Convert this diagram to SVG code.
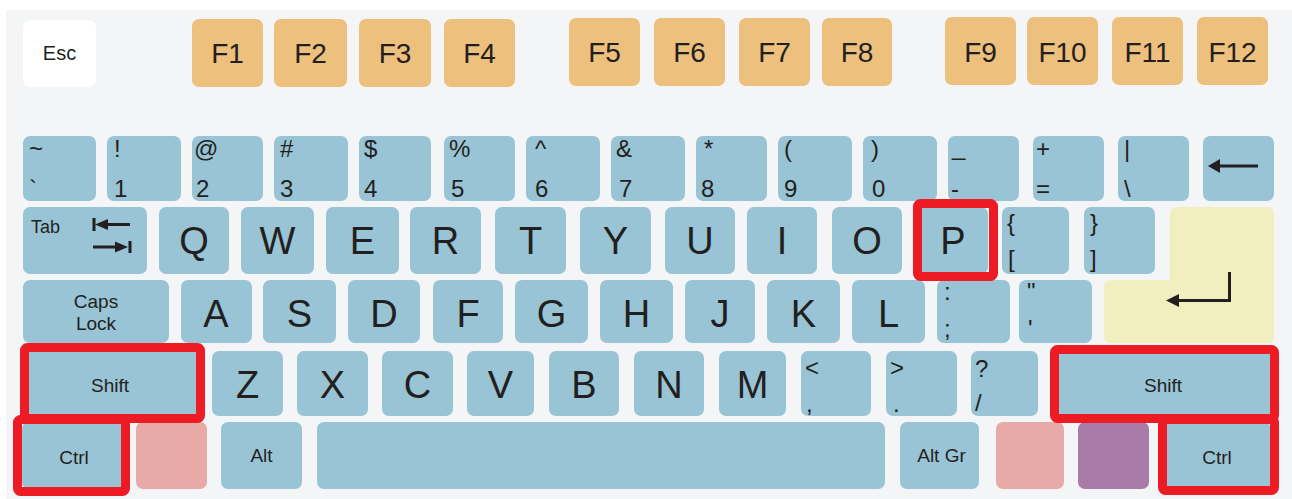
<svg xmlns="http://www.w3.org/2000/svg" width="1292" height="499" viewBox="0 0 1292 499">
<style>
.k{fill:#98c4d5}
.f{fill:#edc07d}
.w{fill:#ffffff}
.pk{fill:#e8aaa7}
.pu{fill:#a97ba8}
.en{fill:#f1efbf}
text{font-family:"Liberation Sans",Arial,sans-serif;fill:#231f20}
.fl{font-size:28px;text-anchor:middle}
.L{font-size:38px;text-anchor:middle}
.s{font-size:24px}
.m{font-size:19px;text-anchor:middle}
.hl{fill:none;stroke:#ed1c24;stroke-width:9}
.ln{fill:none;stroke:#231f20;stroke-width:3}
.ah{fill:#231f20}
</style>
<rect x="6" y="10" width="1286" height="489" fill="#f4f5f7"/>

<g id="esc"><rect class="w" x="23" y="20" width="73" height="67" rx="7"/><text x="59.5" y="60" font-size="20" text-anchor="middle">Esc</text></g>
<g id="f1"><rect class="f" x="192" y="19" width="71" height="68" rx="7"/><text class="fl" x="227.5" y="63">F1</text></g>
<g id="f2"><rect class="f" x="274" y="19" width="73" height="68" rx="7"/><text class="fl" x="310.5" y="63">F2</text></g>
<g id="f3"><rect class="f" x="359" y="19" width="72" height="68" rx="7"/><text class="fl" x="395" y="63">F3</text></g>
<g id="f4"><rect class="f" x="444" y="19" width="71" height="68" rx="7"/><text class="fl" x="479.5" y="63">F4</text></g>
<g id="f5"><rect class="f" x="569" y="18" width="71" height="68" rx="7"/><text class="fl" x="604.5" y="62">F5</text></g>
<g id="f6"><rect class="f" x="654" y="18" width="71" height="68" rx="7"/><text class="fl" x="689.5" y="62">F6</text></g>
<g id="f7"><rect class="f" x="739" y="18" width="71" height="68" rx="7"/><text class="fl" x="774.5" y="62">F7</text></g>
<g id="f8"><rect class="f" x="822" y="18" width="70" height="68" rx="7"/><text class="fl" x="857" y="62">F8</text></g>
<g id="f9"><rect class="f" x="945" y="17" width="71" height="68" rx="7"/><text class="fl" x="980.5" y="62">F9</text></g>
<g id="f10"><rect class="f" x="1027" y="17" width="71" height="68" rx="7"/><text class="fl" x="1062.5" y="62">F10</text></g>
<g id="f11"><rect class="f" x="1112" y="17" width="71" height="68" rx="7"/><text class="fl" x="1147.5" y="62">F11</text></g>
<g id="f12"><rect class="f" x="1197" y="17" width="71" height="68" rx="7"/><text class="fl" x="1232.5" y="62">F12</text></g>

<g id="k-tilde"><rect class="k" x="23" y="136" width="73" height="65" rx="7"/><text class="s" x="29" y="157">~</text><text class="s" x="29" y="197">`</text></g>
<g id="k-1"><rect class="k" x="107" y="136" width="74" height="65" rx="7"/><text class="s" x="114" y="157">!</text><text class="s" x="114" y="197">1</text></g>
<g id="k-2"><rect class="k" x="192" y="136" width="71" height="65" rx="7"/><text class="s" x="194" y="157">@</text><text class="s" x="196" y="197">2</text></g>
<g id="k-3"><rect class="k" x="274" y="136" width="74" height="65" rx="7"/><text class="s" x="280" y="157">#</text><text class="s" x="280" y="197">3</text></g>
<g id="k-4"><rect class="k" x="359" y="136" width="72" height="65" rx="7"/><text class="s" x="364" y="157">$</text><text class="s" x="364" y="197">4</text></g>
<g id="k-5"><rect class="k" x="444" y="136" width="71" height="65" rx="7"/><text class="s" x="449" y="157">%</text><text class="s" x="451" y="197">5</text></g>
<g id="k-6"><rect class="k" x="526" y="136" width="74" height="65" rx="7"/><text class="s" x="535" y="157">^</text><text class="s" x="535" y="197">6</text></g>
<g id="k-7"><rect class="k" x="611" y="136" width="74" height="65" rx="7"/><text class="s" x="616" y="157">&amp;</text><text class="s" x="619" y="197">7</text></g>
<g id="k-8"><rect class="k" x="696" y="136" width="71" height="65" rx="7"/><text class="s" x="704" y="157">*</text><text class="s" x="701" y="197">8</text></g>
<g id="k-9"><rect class="k" x="778" y="136" width="74" height="65" rx="7"/><text class="s" x="784" y="157">(</text><text class="s" x="784" y="197">9</text></g>
<g id="k-0"><rect class="k" x="863" y="136" width="74" height="65" rx="7"/><text class="s" x="871" y="157">)</text><text class="s" x="872" y="197">0</text></g>
<g id="k-minus"><rect class="k" x="948" y="136" width="71" height="65" rx="7"/><text class="s" x="952" y="155">_</text><text class="s" x="951" y="197">-</text></g>
<g id="k-equal"><rect class="k" x="1033" y="136" width="71" height="65" rx="7"/><text class="s" x="1036" y="157">+</text><text class="s" x="1036" y="197">=</text></g>
<g id="k-bslash"><rect class="k" x="1118" y="136" width="71" height="65" rx="7"/><text class="s" x="1124" y="157">|</text><text class="s" x="1124" y="197">\</text></g>
<g id="k-bksp"><rect class="k" x="1203" y="136" width="71" height="65" rx="7"/><line class="ln" x1="1216" y1="166" x2="1258" y2="166"/><polygon class="ah" points="1208,166 1220,159 1220,173"/></g>

<g id="k-tab"><rect class="k" x="23" y="207" width="124" height="67" rx="7"/><text x="31" y="233" font-size="18">Tab</text><line class="ln" x1="94" y1="218" x2="94" y2="231"/><line class="ln" x1="104" y1="224.5" x2="130" y2="224.5"/><polygon class="ah" points="95,224.5 108,219 108,230"/><line class="ln" x1="93" y1="247" x2="119" y2="247"/><polygon class="ah" points="128,247 115,241.5 115,252.5"/><line class="ln" x1="130" y1="241" x2="130" y2="253"/></g>
<g id="k-q"><rect class="k" x="159" y="207" width="70" height="67" rx="7"/><text class="L" x="194" y="254">Q</text></g>
<g id="k-w"><rect class="k" x="241" y="207" width="73" height="67" rx="7"/><text class="L" x="277.5" y="254">W</text></g>
<g id="k-e"><rect class="k" x="326" y="207" width="73" height="67" rx="7"/><text class="L" x="362.5" y="254">E</text></g>
<g id="k-r"><rect class="k" x="410" y="207" width="71" height="67" rx="7"/><text class="L" x="445.5" y="254">R</text></g>
<g id="k-t"><rect class="k" x="495" y="207" width="71" height="67" rx="7"/><text class="L" x="530.5" y="254">T</text></g>
<g id="k-y"><rect class="k" x="580" y="207" width="71" height="67" rx="7"/><text class="L" x="615.5" y="254">Y</text></g>
<g id="k-u"><rect class="k" x="665" y="207" width="70" height="67" rx="7"/><text class="L" x="700" y="254">U</text></g>
<g id="k-i"><rect class="k" x="747" y="207" width="70" height="67" rx="7"/><text class="L" x="782" y="254">I</text></g>
<g id="k-o"><rect class="k" x="832" y="207" width="70" height="67" rx="7"/><text class="L" x="867" y="254">O</text></g>
<g id="k-p"><rect class="k" x="918" y="207" width="70" height="67" rx="7"/><text class="L" x="953" y="254">P</text></g>
<g id="k-lbr"><rect class="k" x="1002" y="207" width="67" height="67" rx="7"/><text class="s" x="1007" y="231">{</text><text class="s" x="1008" y="267">[</text></g>
<g id="k-rbr"><rect class="k" x="1084" y="207" width="71" height="67" rx="7"/><text class="s" x="1090" y="231">}</text><text class="s" x="1090" y="267">]</text></g>
<g id="k-enter"><path class="en" d="M1177,207 H1267 Q1274,207 1274,214 V336 Q1274,343 1267,343 H1111 Q1104,343 1104,336 V287 Q1104,280 1111,280 H1170 V214 Q1170,207 1177,207 Z"/><polyline class="ln" points="1229.5,272 1229.5,300.5 1176,300.5"/><polygon class="ah" points="1166,300.5 1179,294 1179,307"/></g>

<g id="k-caps"><rect class="k" x="23" y="280" width="146" height="63" rx="7"/><text class="m" x="96" y="308">Caps</text><text class="m" x="96" y="330">Lock</text></g>
<g id="k-a"><rect class="k" x="181" y="280" width="71" height="63" rx="7"/><text class="L" x="216" y="327">A</text></g>
<g id="k-s"><rect class="k" x="263" y="280" width="73" height="63" rx="7"/><text class="L" x="299.5" y="327">S</text></g>
<g id="k-d"><rect class="k" x="348" y="280" width="72" height="63" rx="7"/><text class="L" x="384" y="327">D</text></g>
<g id="k-f"><rect class="k" x="433" y="280" width="70" height="63" rx="7"/><text class="L" x="468" y="327">F</text></g>
<g id="k-g"><rect class="k" x="515" y="280" width="73" height="63" rx="7"/><text class="L" x="551.5" y="327">G</text></g>
<g id="k-h"><rect class="k" x="600" y="280" width="73" height="63" rx="7"/><text class="L" x="636.5" y="327">H</text></g>
<g id="k-j"><rect class="k" x="685" y="280" width="70" height="63" rx="7"/><text class="L" x="720" y="327">J</text></g>
<g id="k-k"><rect class="k" x="767" y="280" width="73" height="63" rx="7"/><text class="L" x="803.5" y="327">K</text></g>
<g id="k-l"><rect class="k" x="852" y="280" width="73" height="63" rx="7"/><text class="L" x="888.5" y="327">L</text></g>
<g id="k-semi"><rect class="k" x="937" y="280" width="73" height="63" rx="7"/><text class="s" x="944" y="300">:</text><text class="s" x="944" y="337">;</text></g>
<g id="k-quote"><rect class="k" x="1019" y="280" width="73" height="63" rx="7"/><text class="s" x="1027" y="300">"</text><text class="s" x="1028" y="337">'</text></g>

<g id="k-lshift"><rect class="k" x="23" y="351" width="177" height="65" rx="7"/><text class="m" x="110" y="392">Shift</text></g>
<g id="k-z"><rect class="k" x="212" y="351" width="71" height="65" rx="7"/><text class="L" x="247.5" y="398">Z</text></g>
<g id="k-x"><rect class="k" x="297" y="351" width="71" height="65" rx="7"/><text class="L" x="332.5" y="398">X</text></g>
<g id="k-c"><rect class="k" x="382" y="351" width="71" height="65" rx="7"/><text class="L" x="417.5" y="398">C</text></g>
<g id="k-v"><rect class="k" x="467" y="351" width="67" height="65" rx="7"/><text class="L" x="500.5" y="398">V</text></g>
<g id="k-b"><rect class="k" x="549" y="351" width="70" height="65" rx="7"/><text class="L" x="584" y="398">B</text></g>
<g id="k-n"><rect class="k" x="634" y="351" width="70" height="65" rx="7"/><text class="L" x="669" y="398">N</text></g>
<g id="k-m"><rect class="k" x="719" y="351" width="67" height="65" rx="7"/><text class="L" x="752.5" y="398">M</text></g>
<g id="k-comma"><rect class="k" x="801" y="351" width="70" height="65" rx="7"/><text class="s" x="805" y="376">&lt;</text><text class="s" x="806" y="412">,</text></g>
<g id="k-period"><rect class="k" x="886" y="351" width="71" height="65" rx="7"/><text class="s" x="890" y="376">&gt;</text><text class="s" x="893" y="412">.</text></g>
<g id="k-slash"><rect class="k" x="971" y="351" width="67" height="65" rx="7"/><text class="s" x="975" y="377">?</text><text class="s" x="975" y="411">/</text></g>
<g id="k-rshift"><rect class="k" x="1057" y="351" width="215" height="65" rx="7"/><text class="m" x="1163" y="392">Shift</text></g>

<g id="k-lctrl"><rect class="k" x="22" y="422" width="103" height="67" rx="7"/><text class="m" x="74" y="464">Ctrl</text></g>
<g id="k-lwin"><rect class="pk" x="136" y="422" width="71" height="67" rx="7"/></g>
<g id="k-alt"><rect class="k" x="221" y="422" width="81" height="67" rx="7"/><text class="m" x="261.5" y="462">Alt</text></g>
<g id="k-space"><rect class="k" x="317" y="422" width="568" height="67" rx="7"/></g>
<g id="k-altgr"><rect class="k" x="900" y="422" width="79" height="67" rx="7"/><text class="m" x="941.5" y="462">Alt Gr</text></g>
<g id="k-rwin"><rect class="pk" x="996" y="422" width="68" height="67" rx="7"/></g>
<g id="k-menu"><rect class="pu" x="1078" y="422" width="71" height="67" rx="7"/></g>
<g id="k-rctrl"><rect class="k" x="1163" y="422" width="108" height="67" rx="7"/><text class="m" x="1217" y="464">Ctrl</text></g>

<g id="highlights">
<rect class="hl" x="917.5" y="203.5" width="76" height="73" rx="3"/>
<rect class="hl" x="24.5" y="347.5" width="176" height="71" rx="3"/>
<rect class="hl" x="17.5" y="419.5" width="108" height="72" rx="3"/>
<rect class="hl" x="1054.5" y="349.5" width="220" height="69" rx="3"/>
<rect class="hl" x="1162.5" y="419.5" width="112" height="71" rx="3"/>
</g>
</svg>
